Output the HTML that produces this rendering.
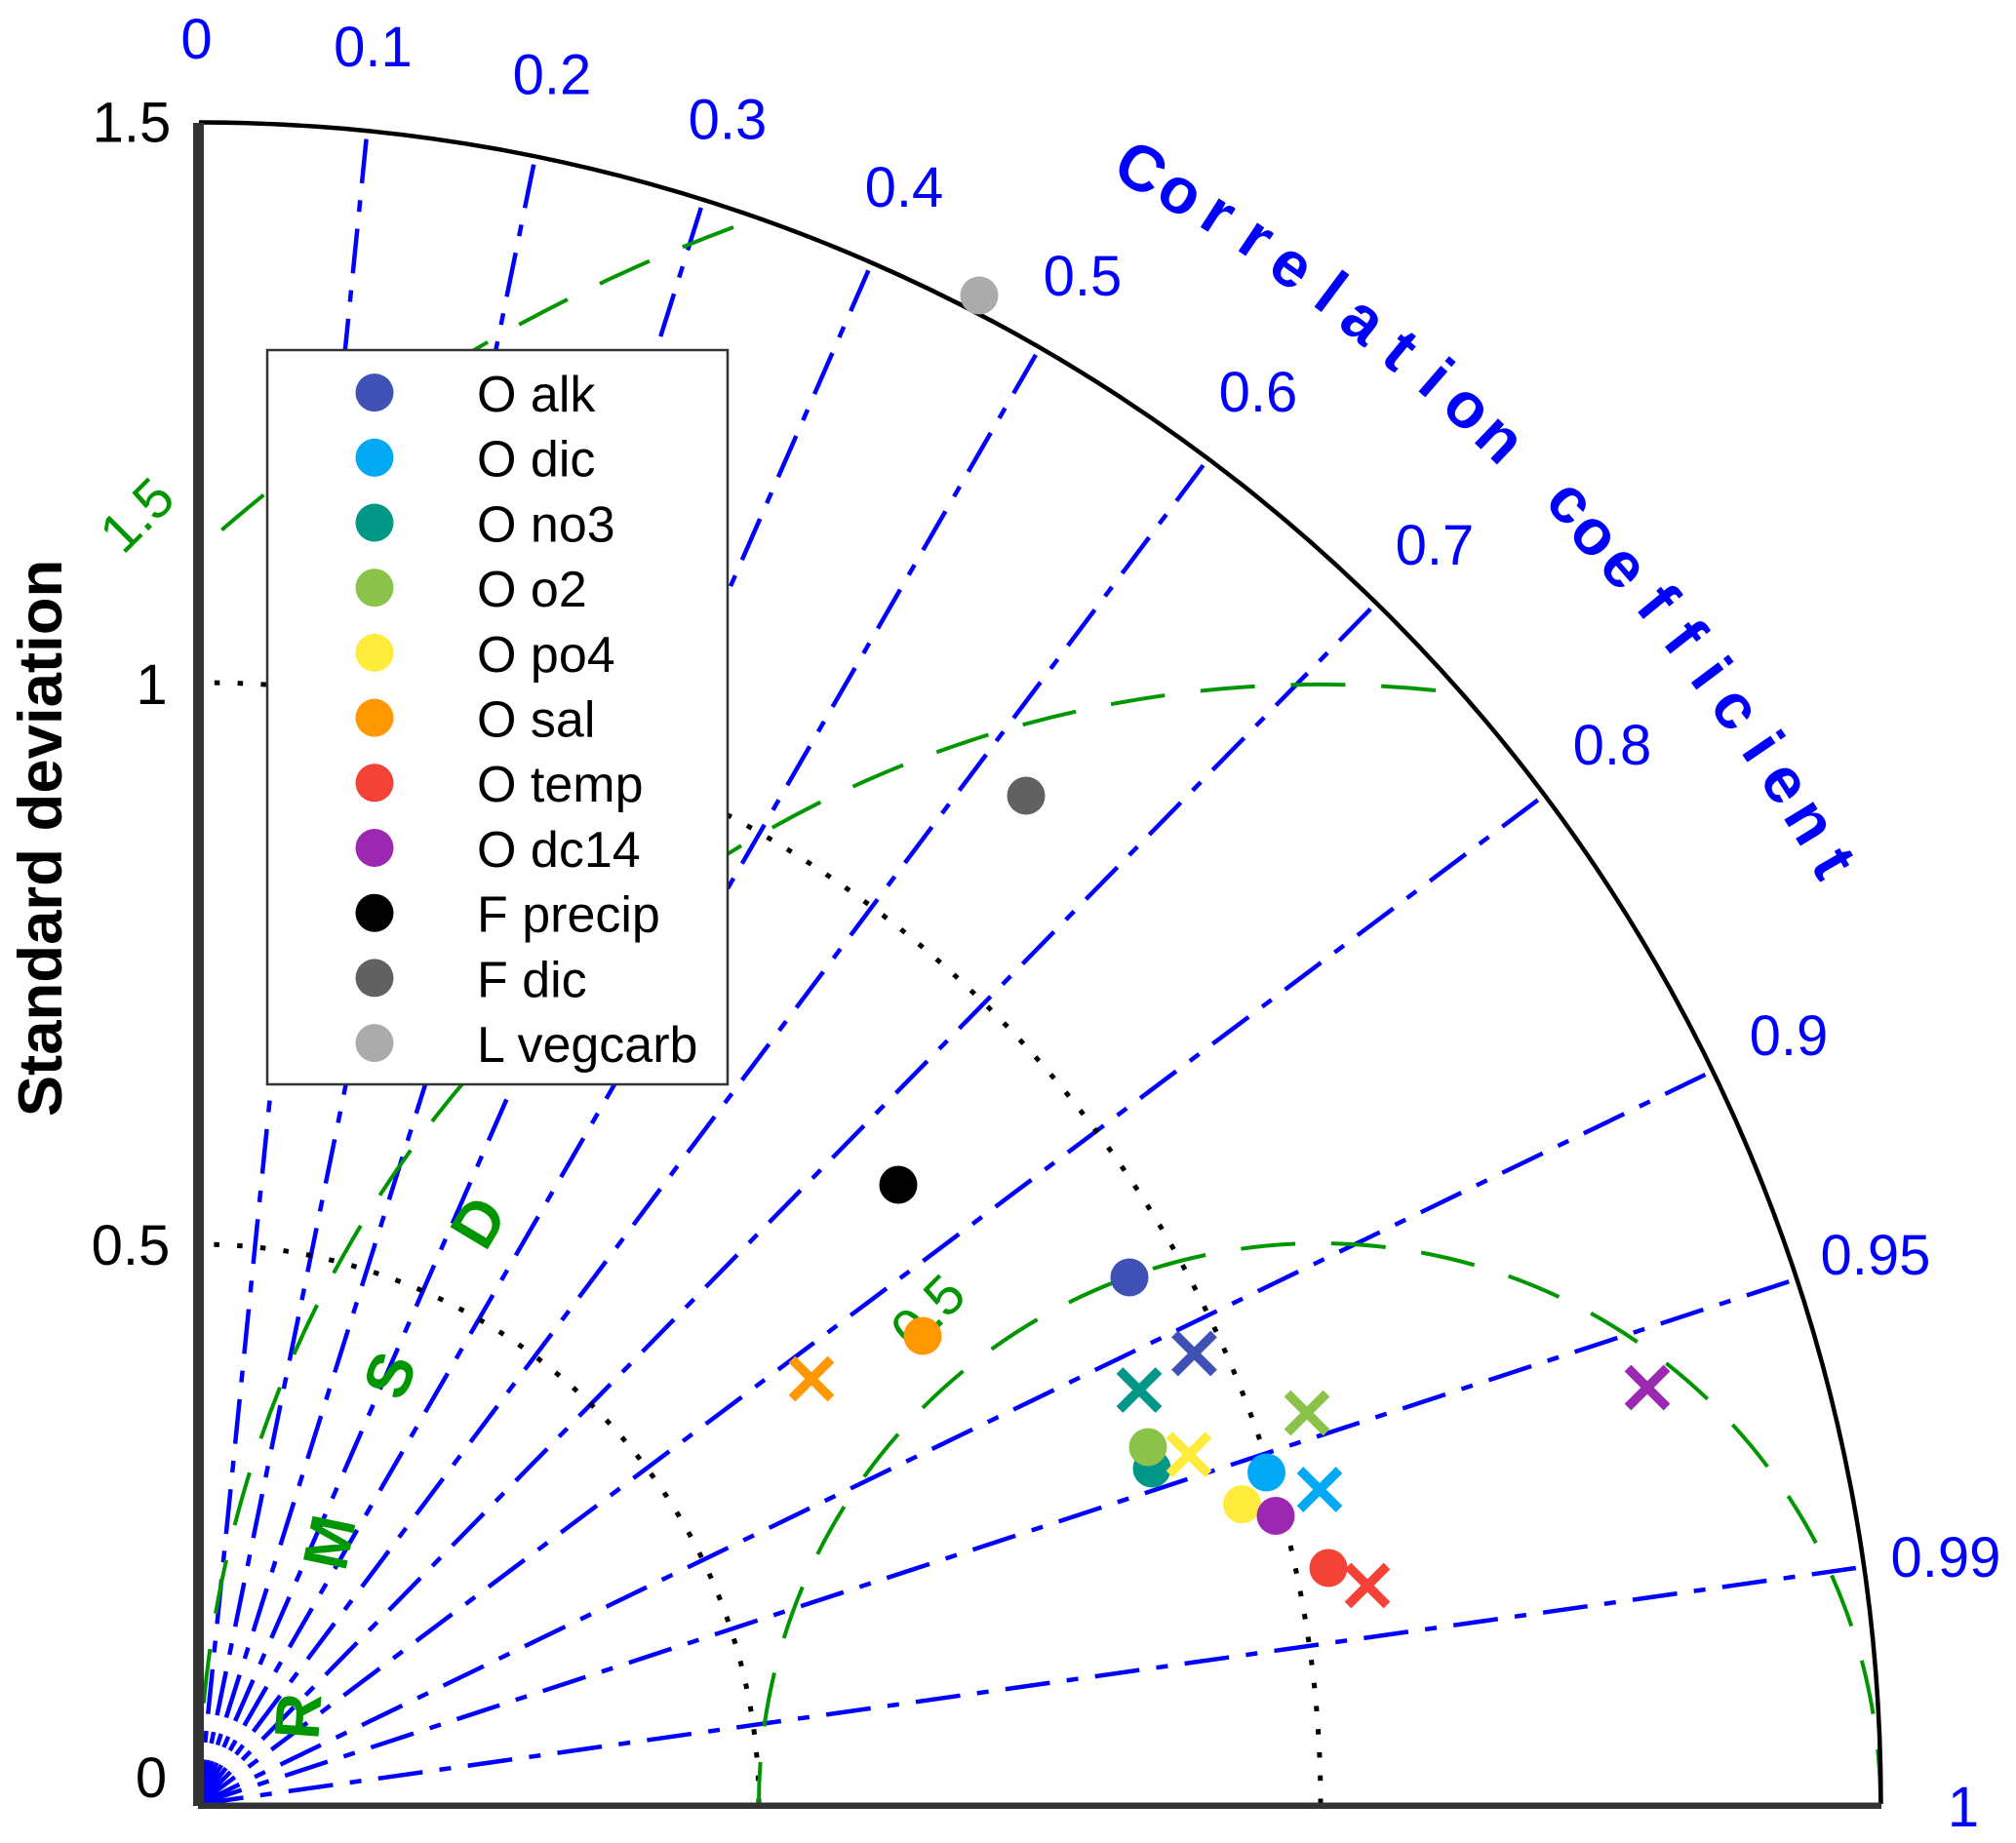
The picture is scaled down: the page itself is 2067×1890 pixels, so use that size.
<!DOCTYPE html>
<html><head><meta charset="utf-8"><style>
html,body{margin:0;padding:0;background:#fff}
svg{display:block}
text{font-family:"Liberation Sans",Arial,sans-serif}
.b{fill:#00f;font-size:58px;text-anchor:middle}
.k{fill:#000;font-size:58px;text-anchor:middle}
.g{fill:#009600;font-size:65px;font-weight:bold;text-anchor:middle}
.c{fill:#00f;font-size:66px;font-weight:bold;text-anchor:middle}
.l{fill:#000;font-size:52px}
</style></head><body>
<svg width="2067" height="1890" viewBox="0 0 2067 1890" xmlns="http://www.w3.org/2000/svg">
<rect width="2067" height="1890" fill="#fff"/>
<!-- radial correlation lines -->
<g stroke="#00f" stroke-width="4.500" stroke-dasharray="46 17.4 12 17.4" fill="none">
<path d="M204 1850L375.6 142.6"/>
<path d="M204 1850L547.2 168.7"/>
<path d="M204 1850L718.8 213"/>
<path d="M204 1850L890.4 277.3"/>
<path d="M204 1850L1062 363.9"/>
<path d="M204 1850L1233.6 477.2"/>
<path d="M204 1850L1405.2 624.5"/>
<path d="M204 1850L1576.8 820.4"/>
<path d="M204 1850L1748.4 1102"/>
<path d="M204 1850L1834.2 1314.2"/>
<path d="M204 1850L1902.8 1608"/>
</g>
<!-- dotted sd arcs -->
<g stroke="#000" stroke-width="5" stroke-dasharray="5.5 18.3" fill="none">
<path d="M778 1850A574 574 0 0 0 204 1276"/>
<path d="M1354 1850A1150 1150 0 0 0 204 700"/>
</g>
<!-- green RMS arcs -->
<g stroke="#009600" stroke-width="4" stroke-dasharray="56 36.8" fill="none">
<path d="M1928 1850A575 575 0 0 0 778 1850"/>
<path d="M1472 708A1150 1150 0 0 0 204 1850"/>
<path d="M752 233A1725 1725 0 0 0 204 564"/>
</g>
<!-- outer arc -->
<path d="M204 125.5A1724.5 1724.5 0 0 1 1928.5 1850" fill="none" stroke="#000" stroke-width="4.5"/>
<!-- axes -->
<rect x="198" y="126" width="11" height="1726" fill="#333"/>
<rect x="203" y="1848.5" width="1726" height="6.5" fill="#333"/>
<!-- axis labels -->
<text class="k" x="135" y="145.500">1.5</text>
<text class="k" x="155.500" y="722">1</text>
<text class="k" x="134" y="1297">0.5</text>
<text class="k" x="155" y="1843">0</text>
<text transform="translate(63,859.5) rotate(-90)" style="font-size:63.5px;font-weight:bold;text-anchor:middle;fill:#000">Standard deviation</text>
<!-- correlation labels -->
<text class="b" x="201.500" y="60">0</text>
<text class="b" x="382.500" y="68">0.1</text>
<text class="b" x="566" y="96.500">0.2</text>
<text class="b" x="746" y="142.500">0.3</text>
<text class="b" x="927" y="212">0.4</text>
<text class="b" x="1110" y="303">0.5</text>
<text class="b" x="1290" y="422">0.6</text>
<text class="b" x="1471" y="579">0.7</text>
<text class="b" x="1653" y="784">0.8</text>
<text class="b" x="1834" y="1082">0.9</text>
<text class="b" x="1923" y="1307">0.95</text>
<text class="b" x="1995" y="1617">0.99</text>
<text class="b" x="2013" y="1873">1</text>
<!-- Correlation coefficient -->
<g class="c">
<text class="c" transform="translate(1170,172) rotate(29.9)" y="23">C</text>
<text class="c" transform="translate(1208,201) rotate(31.3)" y="17">o</text>
<text class="c" transform="translate(1247,223) rotate(32.7)" y="17">r</text>
<text class="c" transform="translate(1286,248) rotate(34)" y="17">r</text>
<text class="c" transform="translate(1322,276) rotate(35.4)" y="17">e</text>
<text class="c" transform="translate(1365,299) rotate(36.8)" y="23">l</text>
<text class="c" transform="translate(1395,332) rotate(38.1)" y="17">a</text>
<text class="c" transform="translate(1436,359) rotate(39.6)" y="22">t</text>
<text class="c" transform="translate(1473,387) rotate(40.9)" y="23">i</text>
<text class="c" transform="translate(1502,421) rotate(42.2)" y="17">o</text>
<text class="c" transform="translate(1535,453) rotate(43.6)" y="17">n</text>
<text class="c" transform="translate(1607,518) rotate(46.5)" y="17">c</text>
<text class="c" transform="translate(1632,551) rotate(47.7)" y="17">o</text>
<text class="c" transform="translate(1662,584) rotate(49)" y="17">e</text>
<text class="c" transform="translate(1700,617) rotate(50.5)" y="23">f</text>
<text class="c" transform="translate(1728,653) rotate(51.9)" y="23">f</text>
<text class="c" transform="translate(1755,690) rotate(53.2)" y="23">i</text>
<text class="c" transform="translate(1776,729) rotate(54.5)" y="17">c</text>
<text class="c" transform="translate(1808,765) rotate(55.9)" y="23">i</text>
<text class="c" transform="translate(1827,805) rotate(57.2)" y="17">e</text>
<text class="c" transform="translate(1852,845) rotate(58.6)" y="17">n</text>
<text class="c" transform="translate(1880,885) rotate(60)" y="22">t</text>
</g>
<!-- RMSD -->
<text class="g" transform="translate(305,1760) rotate(-86)" y="23">R</text>
<text class="g" transform="translate(337,1581.5) rotate(-78)" y="23">M</text>
<text class="g" transform="translate(399,1410) rotate(-68)" y="23">S</text>
<text class="g" transform="translate(490,1253) rotate(-59)" y="23">D</text>
<text transform="translate(140,528) rotate(-45)" y="20" style="fill:#009600;font-size:57px;text-anchor:middle">1.5</text>
<text transform="translate(951,1345) rotate(-45)" y="20" style="fill:#009600;font-size:57px;text-anchor:middle">0.5</text>
<!-- legend -->
<rect x="274" y="359" width="472" height="753" fill="#fff" stroke="#333" stroke-width="2.500"/>
<circle cx="384" cy="402.6" r="19.500" fill="#3F51B5"/>
<circle cx="384" cy="469.3" r="19.500" fill="#03A9F4"/>
<circle cx="384" cy="536" r="19.500" fill="#009688"/>
<circle cx="384" cy="602.7" r="19.500" fill="#8BC34A"/>
<circle cx="384" cy="669.4" r="19.500" fill="#FFEB3B"/>
<circle cx="384" cy="736.1" r="19.500" fill="#FF9800"/>
<circle cx="384" cy="802.8" r="19.500" fill="#F44336"/>
<circle cx="384" cy="869.5" r="19.500" fill="#9C27B0"/>
<circle cx="384" cy="936.2" r="19.500" fill="#000"/>
<circle cx="384" cy="1002.9" r="19.500" fill="#616161"/>
<circle cx="384" cy="1069.6" r="19.500" fill="#ABABAB"/>
<text class="l" x="489" y="422">O alk</text>
<text class="l" x="489" y="488.7">O dic</text>
<text class="l" x="489" y="555.4">O no3</text>
<text class="l" x="489" y="622.1">O o2</text>
<text class="l" x="489" y="688.8">O po4</text>
<text class="l" x="489" y="755.5">O sal</text>
<text class="l" x="489" y="822.2">O temp</text>
<text class="l" x="489" y="888.9">O dc14</text>
<text class="l" x="489" y="955.6">F precip</text>
<text class="l" x="489" y="1022.3">F dic</text>
<text class="l" x="489" y="1089">L vegcarb</text>
<!-- data circles -->
<circle cx="1158" cy="1310" r="19.500" fill="#3F51B5"/>
<circle cx="1181" cy="1506" r="19.500" fill="#009688"/>
<circle cx="1177" cy="1484" r="19.500" fill="#8BC34A"/>
<circle cx="1273.5" cy="1542.6" r="19.500" fill="#FFEB3B"/>
<circle cx="1298.5" cy="1510" r="19.500" fill="#03A9F4"/>
<circle cx="1308" cy="1554.5" r="19.500" fill="#9C27B0"/>
<circle cx="1362" cy="1608" r="19.500" fill="#F44336"/>
<circle cx="946" cy="1370" r="19.500" fill="#FF9800"/>
<circle cx="921" cy="1215" r="19.500" fill="#000"/>
<circle cx="1052" cy="816" r="19.500" fill="#616161"/>
<circle cx="1004" cy="303" r="19.500" fill="#ABABAB"/>
<!-- data crosses -->
<g stroke-width="9.500" fill="none">
<path stroke="#3F51B5" d="M1204.5 1368l40 40m0 -40l-40 40"/>
<path stroke="#009688" d="M1148 1405.5l40 40m0 -40l-40 40"/>
<path stroke="#FFEB3B" d="M1199 1471.6l40 40m0 -40l-40 40"/>
<path stroke="#8BC34A" d="M1320 1429l40 40m0 -40l-40 40"/>
<path stroke="#03A9F4" d="M1333 1507.5l40 40m0 -40l-40 40"/>
<path stroke="#F44336" d="M1382 1606l40 40m0 -40l-40 40"/>
<path stroke="#9C27B0" d="M1669 1403l40 40m0 -40l-40 40"/>
<path stroke="#FF9800" d="M812 1394l40 40m0 -40l-40 40"/>
</g>
</svg>
</body></html>
